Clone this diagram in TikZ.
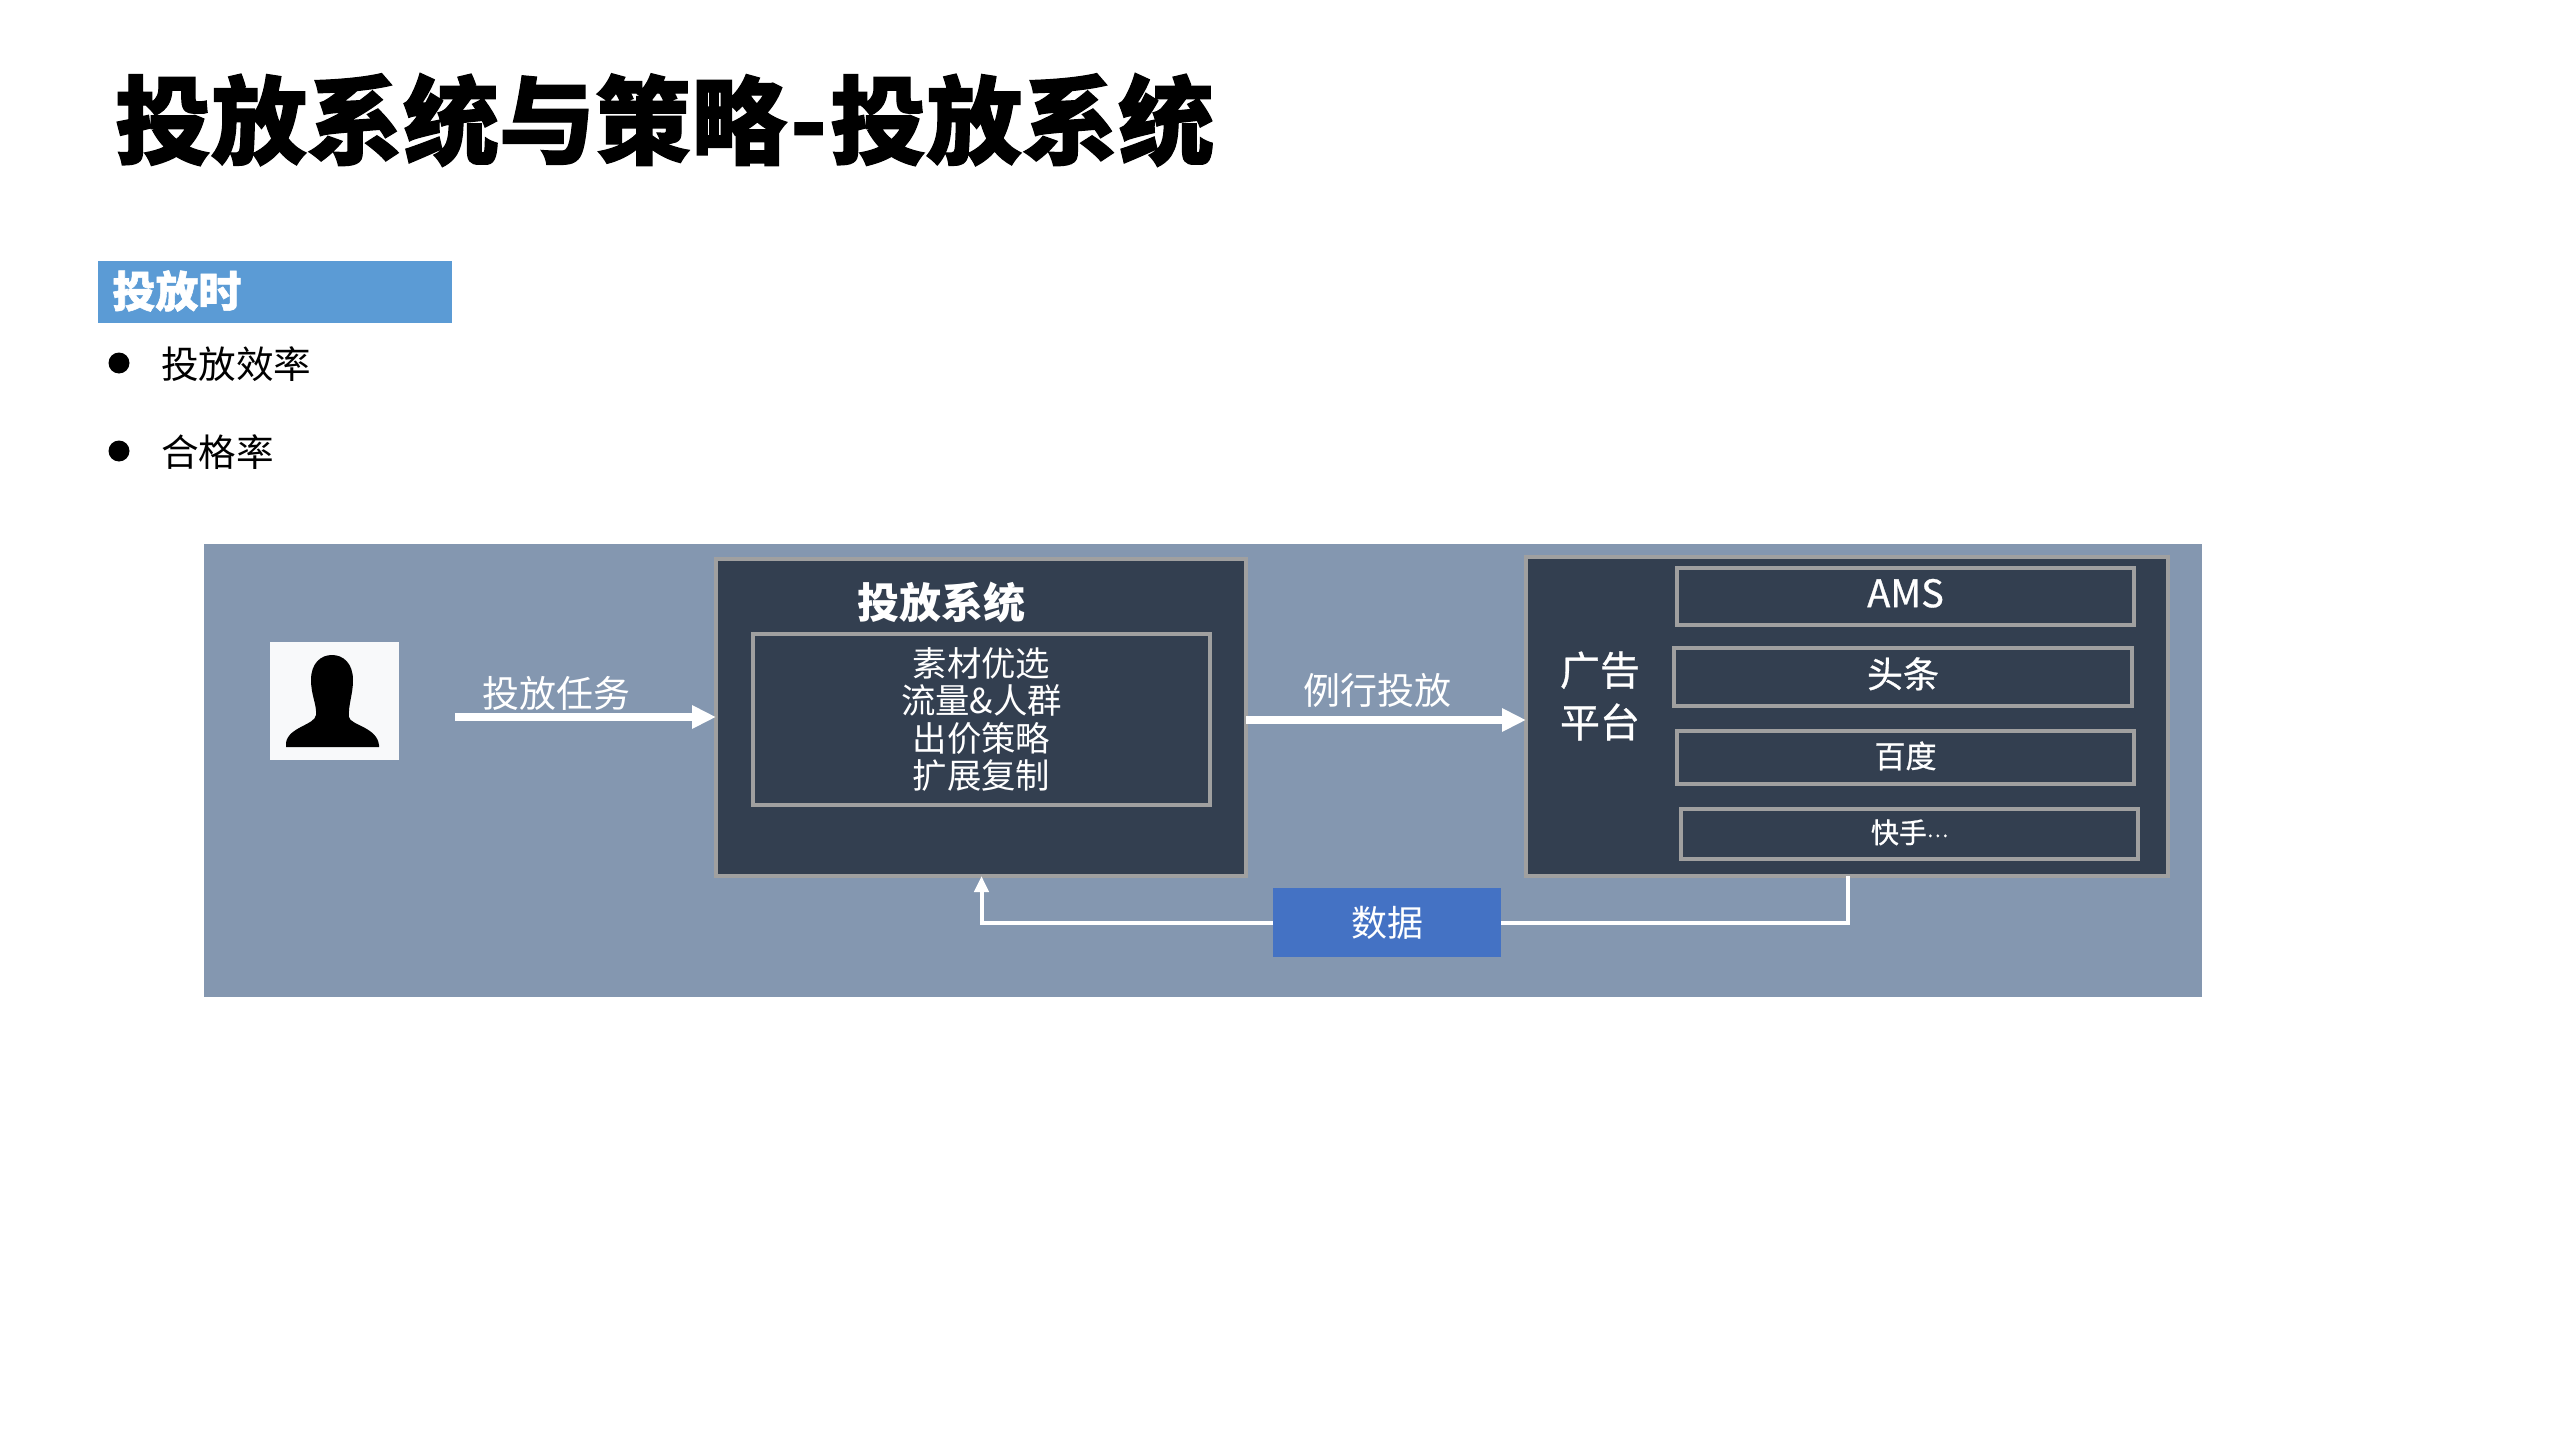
\documentclass[tikz,border=0pt]{standalone}
\usepackage{fontspec}
\setmainfont{Noto Sans CJK SC}
\newfontfamily\heavyfont[BoldFeatures={FakeBold=1.3}]{Noto Sans CJK SC}
\newfontfamily\semifont[FakeBold=0.8]{Noto Sans CJK SC}
\usepackage{xcolor}
\usetikzlibrary{arrows.meta, positioning}
\definecolor{panelblue}{HTML}{8497B0}
\definecolor{boxdark}{HTML}{333F50}
\definecolor{boxline}{HTML}{A0A0A0}
\definecolor{headblue}{HTML}{5B9BD5}
\definecolor{datablue}{HTML}{4472C4}
\definecolor{photowhite}{HTML}{F8F9FA}
\newcommand{\fs}[1]{\fontsize{#1}{#1}\selectfont}
\newcommand{\lift}[2]{\raisebox{#1}[\height][\depth]{#2}}

\tikzset{
    darkbox/.style={draw=boxline, fill=boxdark, line width=2pt, inner sep=0pt, outer sep=0pt, text=white},
    whitetext/.style={text=white, inner sep=0pt, outer sep=0pt, align=center},
    blacktext/.style={text=black, inner sep=0pt, outer sep=0pt},
    bigarrow/.style={draw=white, line width=4pt, -{Triangle[width=11pt,length=12pt]}},
    thinline/.style={draw=white, line width=2pt}
}

\begin{document}
\begin{tikzpicture}[x=0.5pt, y=-0.5pt]
    \useasboundingbox (0, 0) rectangle (2559, 1439);
    \fill[white] (0, 0) rectangle (2559, 1439);

    \node[blacktext, anchor=west, font=\heavyfont\bfseries\fs{48}] (title) at (115, 120) {投放系统与策略\hspace{1.6pt}-\hspace{1.6pt}投放系统};

    \node[fill=headblue, minimum width=177pt, minimum height=31pt, inner sep=0pt] (head) at (275, 292) {};
    \node[anchor=west, text=white, inner sep=0pt, font=\heavyfont\bfseries\fs{21.5}] (headt) at (112, 291) {投放时};
    \node[circle, fill=black, minimum size=10.5pt, inner sep=0pt] (dot1) at (119, 363) {};
    \node[circle, fill=black, minimum size=10.5pt, inner sep=0pt] (dot2) at (119, 451) {};
    \node[blacktext, anchor=west, font=\fs{18.8}] (eff) at (161, 364) {投放效率};
    \node[blacktext, anchor=west, font=\fs{18.8}] (rate) at (161, 452) {合格率};

    \node[fill=panelblue, minimum width=999pt, minimum height=226.5pt, inner sep=0pt] (panel) at (1203, 770.5) {};

    \node[fill=photowhite, minimum width=64.5pt, minimum height=59pt, inner sep=0pt, outer sep=0pt] (user) at (334.5, 701) {};
    \fill[black] (311, 680)
        .. controls (311, 663) and (321, 655) .. (332, 655)
        .. controls (343, 655) and (353, 663) .. (353, 680)
        .. controls (353, 695) and (348, 705) .. (349, 717)
        .. controls (350, 725) and (377, 727) .. (379, 745)
        -- (379, 747) -- (286, 747) -- (286, 743)
        .. controls (288, 727) and (315, 725) .. (316, 715)
        .. controls (317, 705) and (311, 695) .. (311, 680) -- cycle;

    \node[darkbox, minimum width=265pt, minimum height=158.5pt] (sys) at (981, 717.5) {};
    \node[whitetext, font=\bfseries\fs{21}] (syst) at (941, 602) {投放系统};
    \node[darkbox, minimum width=228.5pt, minimum height=85.5pt, font=\fontsize{17.2}{18.7}\selectfont, align=center] (task) at (981.5, 719.5)
        {素材优选\\流量\&人群\\出价策略\\扩展复制};

    \node[darkbox, minimum width=321pt, minimum height=159.5pt] (plat) at (1847, 716.5) {};
    \node[whitetext, font=\semifont\fontsize{20}{26}\selectfont] (platt) at (1600, 696) {广告\\平台};
    \node[darkbox, minimum width=228.5pt, minimum height=28.5pt, font=\semifont\fs{19}] (ams) at (1905.5, 596.5) {\lift{1.6pt}{AMS}};
    \node[darkbox, minimum width=229pt, minimum height=29pt, font=\semifont\fs{18}] (tt) at (1903, 677) {\lift{1.6pt}{头条}};
    \node[darkbox, minimum width=228.5pt, minimum height=26.5pt, font=\semifont\fs{15.5}] (bd) at (1905.5, 757.5) {\lift{0.8pt}{百度}};
    \node[darkbox, minimum width=228.5pt, minimum height=25pt, font=\semifont\fs{14}] (ks) at (1909.5, 834) {\lift{0.8pt}{快手\raisebox{3pt}{\fs{10}…}}};

    \node[fill=datablue, text=white, minimum width=114pt, minimum height=34.5pt, inner sep=0pt, outer sep=0pt, font=\fs{18}] (data) at (1387, 922.5) {数据};

    \node[whitetext, font=\fs{18.5}] (tasklab) at (556, 693) {投放任务};
    \node[whitetext, font=\fs{18.5}] (runlab) at (1377, 690) {例行投放};

    \coordinate (userout) at (455, 717);
    \coordinate (fromplat) at (1848, 876);

    \draw[bigarrow] (userout) -- (sys.west |- userout);
    \draw[bigarrow] ([yshift=-1.25pt]sys.east) -- ([yshift=-1.75pt]plat.west);
    \draw[thinline] (fromplat) |- (data.east);
    \draw[thinline, -{Triangle[width=7pt,length=8pt]}] (data.west) -| (task.center |- sys.south);
\end{tikzpicture}
\end{document}
